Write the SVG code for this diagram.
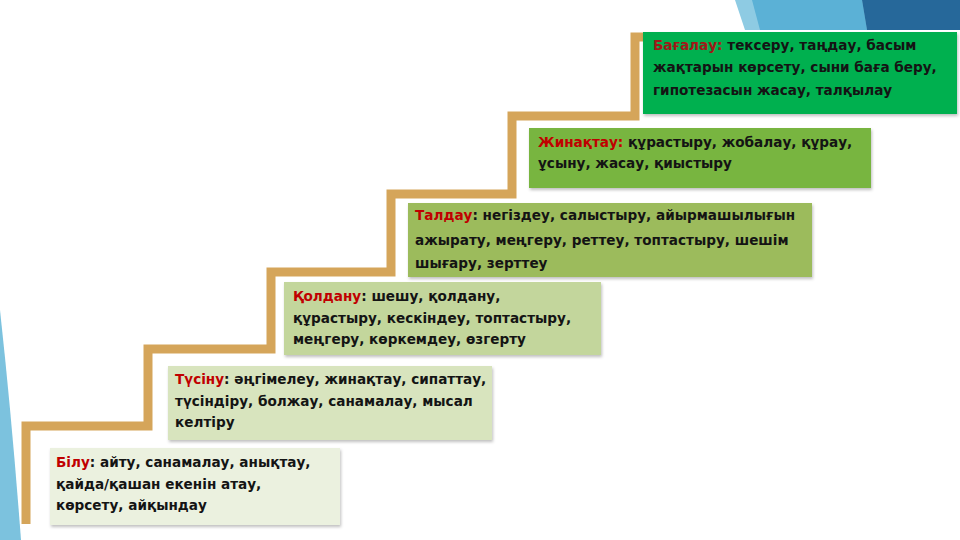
<svg xmlns="http://www.w3.org/2000/svg" width="960" height="540" viewBox="0 0 960 540">
<defs>
<style>
.t{font-family:"DejaVu Sans","Noto Sans",sans-serif;font-weight:bold;font-size:13.6px;fill:#141414}
.lb{fill:#C00000}
.lb2{fill:#A01818}
.box{filter:url(#sh)}
</style>
<filter id="sh" x="-5%" y="-10%" width="110%" height="125%">
<feDropShadow dx="1" dy="2" stdDeviation="1.5" flood-color="#000" flood-opacity="0.25"/>
</filter>
</defs>
<rect width="960" height="540" fill="#ffffff"/>
<g id="decor">
<polygon points="735,0 960,0 960,30 745,30" fill="#8ECBE3"/>
<polygon points="752,0 862,0 867,30 760,30" fill="#5BB1D6"/>
<polygon points="862,0 960,0 960,30 867,30" fill="#26689A"/>
<path d="M0,310 Q12,420 21,540 L0,540 Z" fill="#7CC2DE"/>
</g>
<g id="connectors">
<path d="M26,524 V426 H148 V349 H271 V272 H391 V194 H512 V116 H635 V37 H645" fill="none" stroke="#D5A55A" stroke-width="9" stroke-linejoin="miter"/>
</g>
<g id="node-bagalau">
<rect class="box" x="643" y="32" width="314" height="82" fill="#00B050"/>
<text class="t" x="653" y="50"><tspan class="lb2">Бағалау:</tspan> тексеру, таңдау, басым</text>
<text class="t" x="653" y="72">жақтарын көрсету, сыни баға беру,</text>
<text class="t" x="653" y="95">гипотезасын жасау, талқылау</text>
</g>
<g id="node-zhinaqtau">
<rect class="box" x="529" y="128" width="342" height="60" fill="#78B53F"/>
<text class="t" x="538" y="147"><tspan class="lb">Жинақтау:</tspan> құрастыру, жобалау, құрау,</text>
<text class="t" x="538" y="168">ұсыну, жасау,  қиыстыру</text>
</g>
<g id="node-taldau">
<rect class="box" x="408" y="203" width="404" height="74" fill="#9CBB5B"/>
<text class="t" x="415" y="220"><tspan class="lb">Талдау</tspan>: негіздеу, салыстыру, айырмашылығын</text>
<text class="t" x="415" y="245">ажырату, меңгеру, реттеу, топтастыру, шешім</text>
<text class="t" x="415" y="268">шығару, зерттеу</text>
</g>
<g id="node-qoldanu">
<rect class="box" x="284" y="282" width="317" height="73" fill="#C3D69C"/>
<text class="t" x="293" y="301"><tspan class="lb">Қолдану</tspan>: шешу, қолдану,</text>
<text class="t" x="293" y="323">құрастыру, кескіндеу, топтастыру,</text>
<text class="t" x="293" y="344">меңгеру, көркемдеу, өзгерту</text>
</g>
<g id="node-tusinu">
<rect class="box" x="168" y="366" width="324" height="74" fill="#D8E4BE"/>
<text class="t" x="175" y="384"><tspan class="lb">Түсіну</tspan>: әңгімелеу, жинақтау, сипаттау,</text>
<text class="t" x="175" y="406">түсіндіру, болжау, санамалау, мысал</text>
<text class="t" x="175" y="427">келтіру</text>
</g>
<g id="node-bilu">
<rect class="box" x="50" y="448" width="290" height="77" fill="#EBF1DF"/>
<text class="t" x="56" y="467"><tspan class="lb">Білу</tspan>: айту, санамалау, анықтау,</text>
<text class="t" x="56" y="489">қайда/қашан екенін атау,</text>
<text class="t" x="56" y="510">көрсету, айқындау</text>
</g>
</svg>
